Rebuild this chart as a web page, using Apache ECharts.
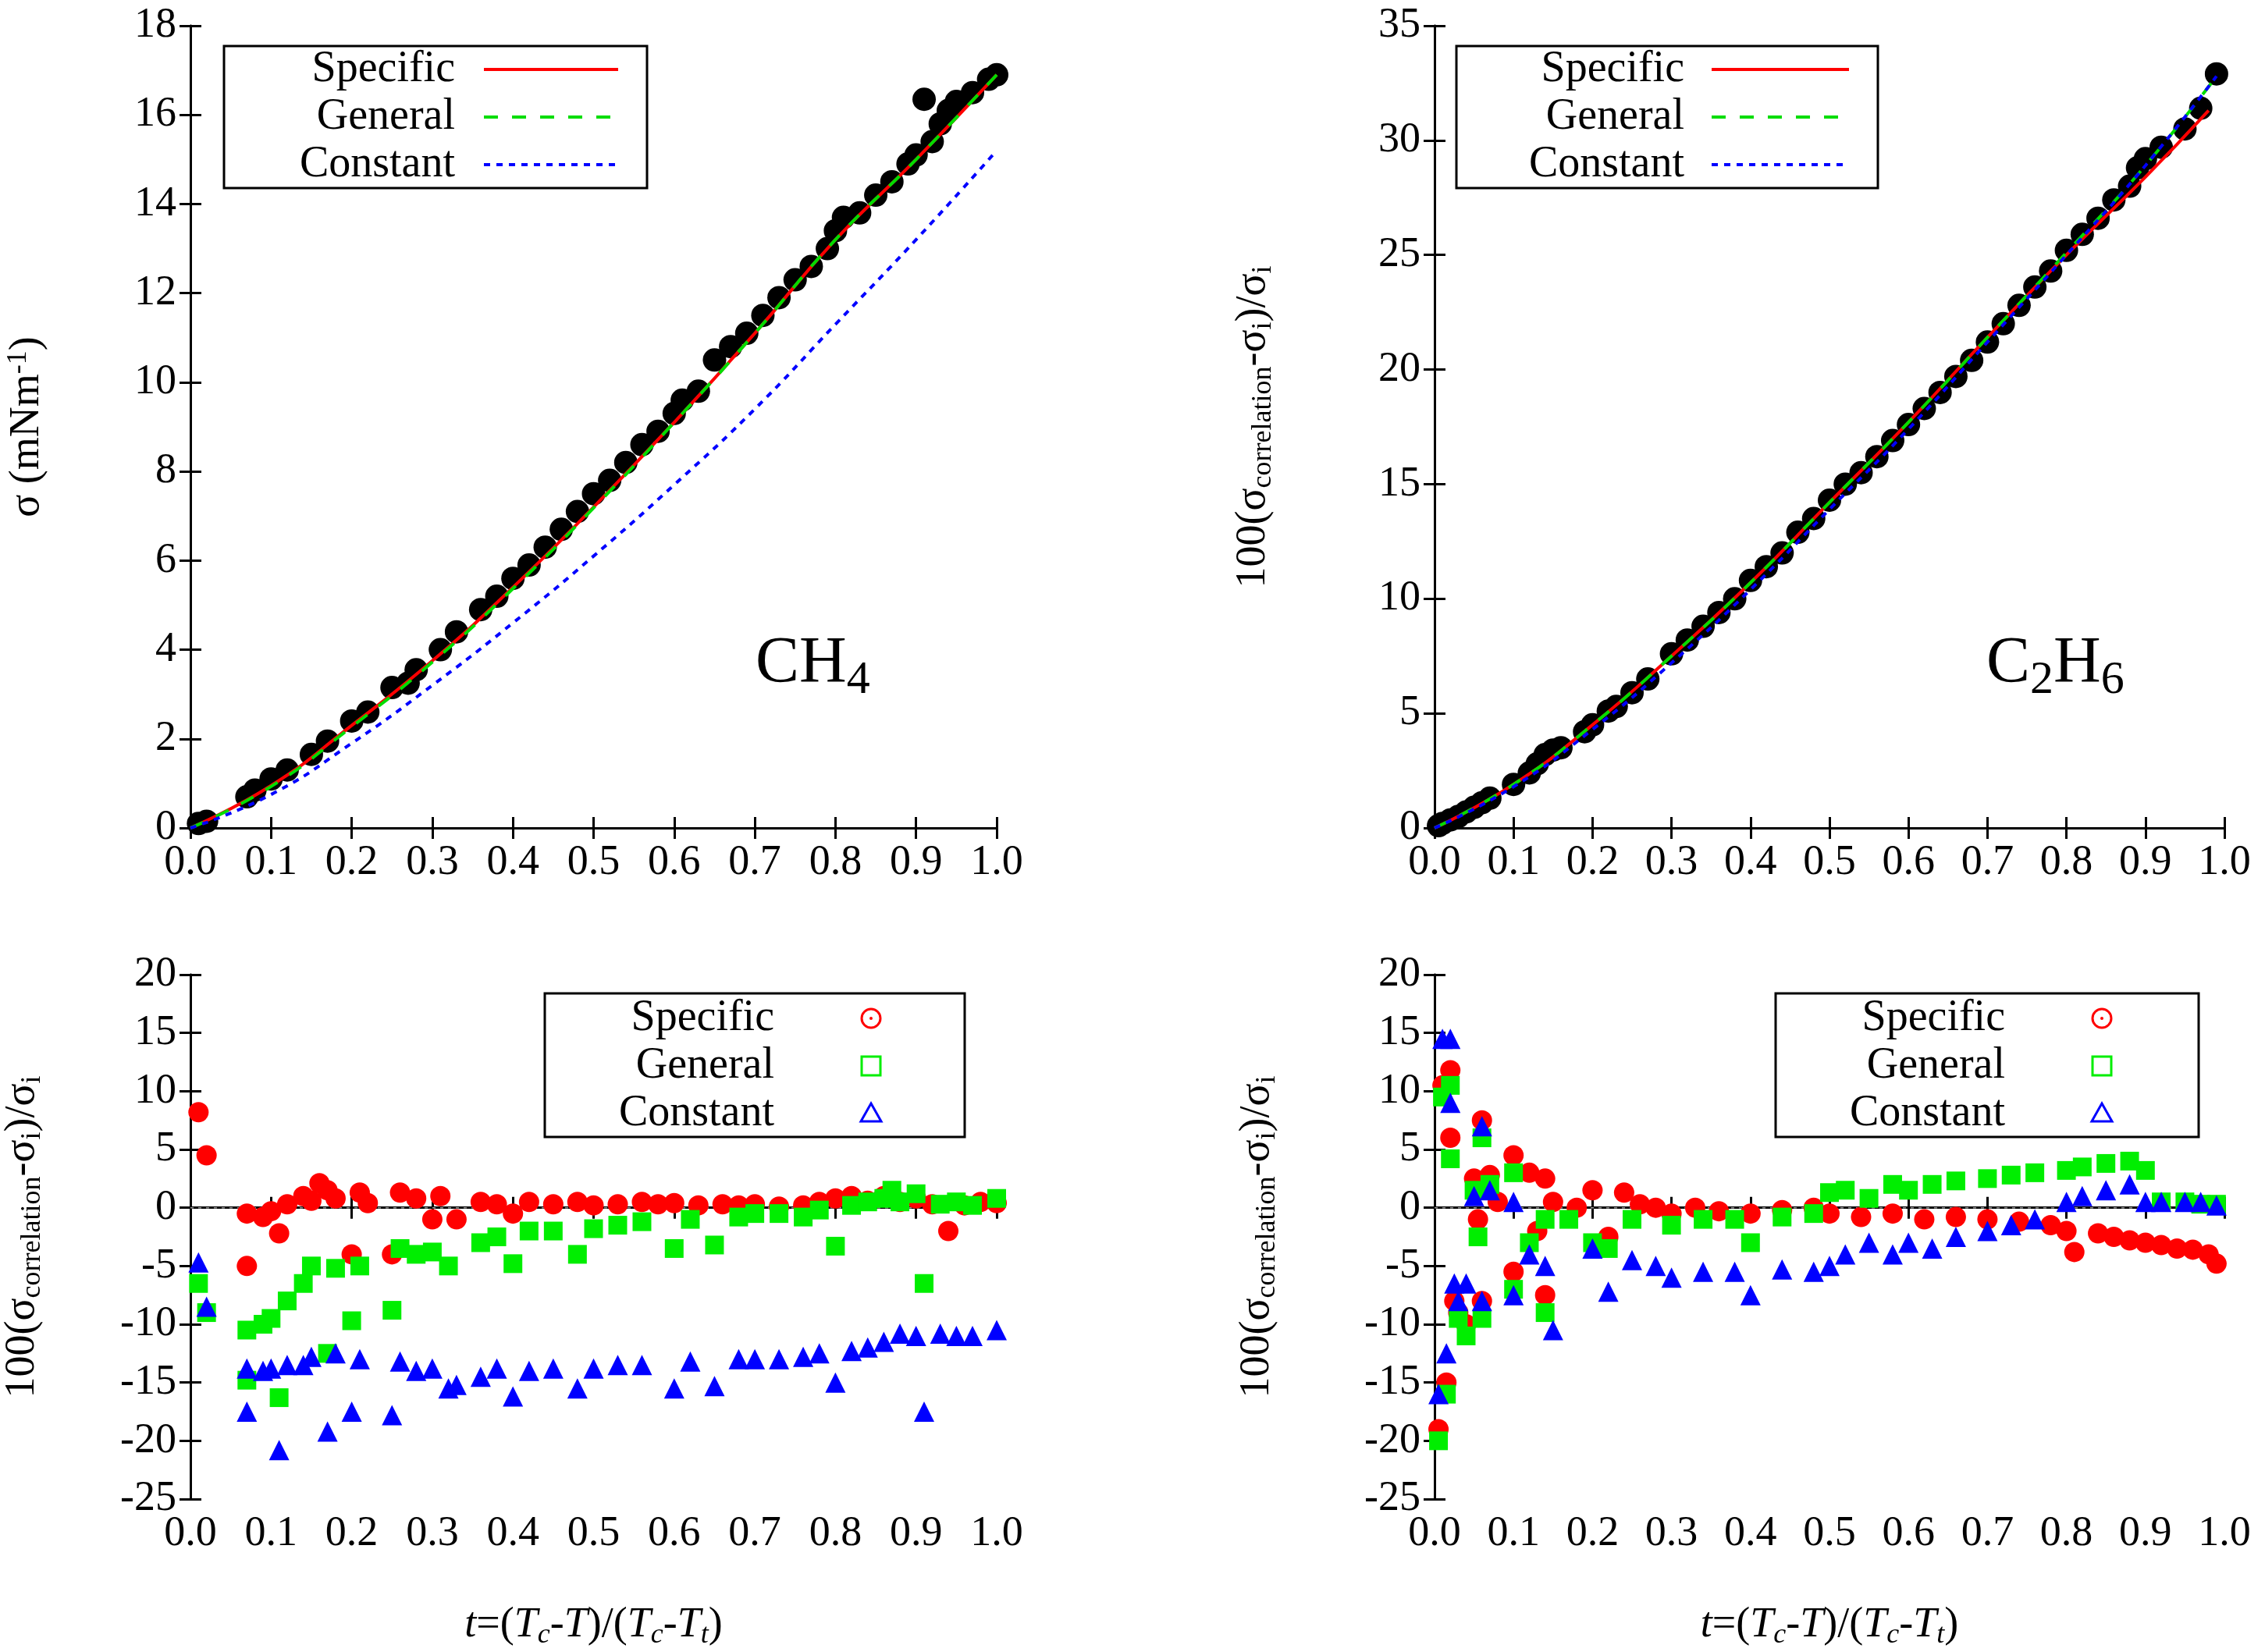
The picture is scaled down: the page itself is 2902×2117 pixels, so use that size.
<!DOCTYPE html>
<html><head><meta charset="utf-8">
<script src="https://cdn.jsdelivr.net/npm/echarts@6/dist/echarts.min.js"></script>
<style>html,body{margin:0;padding:0;background:#fff}#c{width:2902px;height:2117px}</style>
</head><body><div id="c"></div>
<script>
// ---------- data ----------
const xTicks = [0.0,0.1,0.2,0.3,0.4,0.5,0.6,0.7,0.8,0.9,1.0];
const ch4Exp = [[0.01,0.1],[0.02,0.15],[0.07,0.7],[0.08,0.85],[0.1,1.1],[0.12,1.3],[0.15,1.65],[0.17,1.95],[0.2,2.4],[0.22,2.6],[0.25,3.15],[0.27,3.25],[0.28,3.55],[0.31,4.0],[0.33,4.4],[0.36,4.9],[0.38,5.2],[0.4,5.6],[0.42,5.9],[0.44,6.3],[0.46,6.7],[0.48,7.1],[0.5,7.5],[0.52,7.8],[0.54,8.2],[0.56,8.6],[0.58,8.9],[0.6,9.3],[0.61,9.6],[0.63,9.8],[0.65,10.5],[0.67,10.8],[0.69,11.1],[0.71,11.5],[0.73,11.9],[0.75,12.3],[0.77,12.6],[0.79,13.0],[0.8,13.4],[0.81,13.7],[0.83,13.8],[0.85,14.2],[0.87,14.5],[0.89,14.9],[0.9,15.1],[0.91,16.35],[0.92,15.4],[0.93,15.8],[0.94,16.1],[0.95,16.3],[0.97,16.5],[0.99,16.8],[1.0,16.9]];
const ch4Spec = [[0,0],[0.1,0.95],[0.2,2.3],[0.3,3.75],[0.4,5.4],[0.5,7.2],[0.6,9.1],[0.7,11.1],[0.8,13.2],[0.9,15.0],[1.0,16.9]];
const ch4Gen = [[0,0],[0.1,0.93],[0.2,2.27],[0.3,3.72],[0.4,5.37],[0.5,7.18],[0.6,9.1],[0.7,11.1],[0.8,13.2],[0.9,15.0],[1.0,16.9]];
const ch4Const = [[0,0],[0.1,0.75],[0.2,1.9],[0.3,3.2],[0.4,4.6],[0.5,6.1],[0.6,7.7],[0.7,9.4],[0.8,11.3],[0.9,13.2],[1.0,15.2]];
const c2h6Exp = [[0.005,0.1],[0.01,0.2],[0.02,0.35],[0.03,0.5],[0.04,0.7],[0.05,0.9],[0.06,1.1],[0.07,1.3],[0.1,1.9],[0.12,2.4],[0.13,2.8],[0.14,3.2],[0.15,3.4],[0.16,3.5],[0.19,4.2],[0.2,4.5],[0.22,5.1],[0.23,5.3],[0.25,5.9],[0.27,6.5],[0.3,7.6],[0.32,8.2],[0.34,8.8],[0.36,9.4],[0.38,10.0],[0.4,10.8],[0.42,11.4],[0.44,12.0],[0.46,12.9],[0.48,13.5],[0.5,14.3],[0.52,15.0],[0.54,15.5],[0.56,16.2],[0.58,16.9],[0.6,17.6],[0.62,18.3],[0.64,19.0],[0.66,19.7],[0.68,20.4],[0.7,21.2],[0.72,22.0],[0.74,22.8],[0.76,23.6],[0.78,24.3],[0.8,25.2],[0.82,25.9],[0.84,26.6],[0.86,27.4],[0.88,28.0],[0.89,28.8],[0.9,29.2],[0.92,29.7],[0.95,30.5],[0.97,31.4],[0.99,32.9]];
const c2h6Spec = [[0,0],[0.1,1.9],[0.2,4.5],[0.3,7.5],[0.4,10.7],[0.5,14.2],[0.6,17.7],[0.7,21.4],[0.8,25.0],[0.9,28.4],[0.98,31.3]];
const c2h6Gen = [[0,0],[0.1,1.9],[0.2,4.5],[0.3,7.5],[0.4,10.7],[0.5,14.2],[0.6,17.7],[0.7,21.4],[0.8,25.1],[0.9,28.9],[0.99,32.8]];
const c2h6Const = [[0,0],[0.1,1.8],[0.2,4.3],[0.3,7.2],[0.4,10.4],[0.5,13.9],[0.6,17.4],[0.7,21.2],[0.8,25.0],[0.9,28.9],[0.99,32.8]];
const ch4DevSpec = [[0.01,8.2],[0.02,4.5],[0.07,-0.5],[0.07,-5],[0.09,-0.8],[0.1,-0.3],[0.11,-2.2],[0.12,0.3],[0.14,1],[0.15,0.6],[0.16,2.1],[0.17,1.5],[0.18,0.8],[0.2,-4],[0.21,1.3],[0.22,0.4],[0.25,-4],[0.26,1.3],[0.28,0.8],[0.3,-1],[0.31,1],[0.33,-1],[0.36,0.5],[0.38,0.3],[0.4,-0.5],[0.42,0.5],[0.45,0.3],[0.48,0.5],[0.5,0.2],[0.53,0.3],[0.56,0.5],[0.58,0.3],[0.6,0.4],[0.63,0.2],[0.66,0.3],[0.68,0.2],[0.7,0.3],[0.73,0.1],[0.76,0.2],[0.78,0.5],[0.8,0.8],[0.82,1.0],[0.84,0.6],[0.86,1.0],[0.88,0.5],[0.9,0.8],[0.92,0.3],[0.94,-2],[0.96,0.2],[0.98,0.5],[1.0,0.4]];
const ch4DevGen = [[0.01,-6.5],[0.02,-9],[0.07,-10.5],[0.07,-14.8],[0.09,-10],[0.1,-9.5],[0.11,-16.3],[0.12,-8],[0.14,-6.5],[0.15,-5],[0.17,-12.5],[0.18,-5.2],[0.2,-9.7],[0.21,-5],[0.25,-8.8],[0.26,-3.5],[0.28,-4],[0.3,-3.8],[0.32,-5],[0.36,-3],[0.38,-2.5],[0.4,-4.8],[0.42,-2],[0.45,-2],[0.48,-4],[0.5,-1.8],[0.53,-1.5],[0.56,-1.2],[0.6,-3.5],[0.62,-1],[0.65,-3.2],[0.68,-0.8],[0.7,-0.5],[0.73,-0.5],[0.76,-0.8],[0.78,-0.2],[0.8,-3.3],[0.82,0.2],[0.84,0.5],[0.86,0.8],[0.87,1.5],[0.88,0.5],[0.9,1.2],[0.91,-6.5],[0.93,0.3],[0.95,0.5],[0.97,0.2],[1.0,0.8]];
const ch4DevConst = [[0.01,-4.7],[0.02,-8.5],[0.07,-13.8],[0.07,-17.5],[0.09,-14],[0.1,-13.8],[0.11,-20.8],[0.12,-13.5],[0.14,-13.5],[0.15,-12.8],[0.17,-19.2],[0.18,-12.5],[0.2,-17.5],[0.21,-13],[0.25,-17.8],[0.26,-13.2],[0.28,-14],[0.3,-13.8],[0.32,-15.5],[0.33,-15.2],[0.36,-14.5],[0.38,-13.8],[0.4,-16.2],[0.42,-14],[0.45,-13.8],[0.48,-15.5],[0.5,-13.8],[0.53,-13.5],[0.56,-13.5],[0.6,-15.5],[0.62,-13.2],[0.65,-15.3],[0.68,-13],[0.7,-13],[0.73,-13],[0.76,-12.8],[0.78,-12.5],[0.8,-15],[0.82,-12.3],[0.84,-12],[0.86,-11.5],[0.88,-10.8],[0.9,-11],[0.91,-17.5],[0.93,-10.8],[0.95,-11],[0.97,-11],[1.0,-10.5]];
const c2h6DevSpec = [[0.005,-19],[0.01,10.5],[0.015,-15],[0.02,11.8],[0.02,6],[0.025,-8],[0.03,-9],[0.04,-10],[0.05,2.5],[0.055,-1],[0.06,7.5],[0.06,-8],[0.07,2.8],[0.08,0.5],[0.1,4.5],[0.1,-5.5],[0.12,3],[0.13,-2],[0.14,2.5],[0.14,-7.5],[0.15,0.5],[0.18,0],[0.2,1.5],[0.22,-2.5],[0.24,1.3],[0.26,0.3],[0.28,0],[0.3,-0.5],[0.33,0],[0.36,-0.3],[0.4,-0.5],[0.44,-0.2],[0.48,0],[0.5,-0.5],[0.54,-0.8],[0.58,-0.5],[0.62,-1],[0.66,-0.8],[0.7,-1],[0.74,-1.2],[0.78,-1.5],[0.8,-2],[0.81,-3.8],[0.84,-2.2],[0.86,-2.5],[0.88,-2.8],[0.9,-3],[0.92,-3.2],[0.94,-3.5],[0.96,-3.6],[0.98,-4],[0.99,-4.8]];
const c2h6DevGen = [[0.005,-20],[0.01,9.5],[0.015,-16],[0.02,10.5],[0.02,4.2],[0.03,-9.5],[0.04,-11],[0.05,1.5],[0.055,-2.5],[0.06,6],[0.06,-9.5],[0.07,2],[0.1,3],[0.1,-7],[0.12,-3],[0.14,-1],[0.14,-9],[0.17,-1],[0.2,-3],[0.22,-3.5],[0.25,-1],[0.3,-1.5],[0.34,-1],[0.38,-1],[0.4,-3],[0.44,-0.8],[0.48,-0.5],[0.5,1.3],[0.52,1.5],[0.55,0.8],[0.58,2],[0.6,1.5],[0.63,2],[0.66,2.3],[0.7,2.5],[0.73,2.8],[0.76,3],[0.8,3.2],[0.82,3.5],[0.85,3.8],[0.88,4],[0.9,3.2],[0.92,0.5],[0.95,0.5],[0.97,0.3],[0.99,0.3]];
const c2h6DevConst = [[0.005,-16],[0.01,14.5],[0.015,-12.5],[0.02,14.5],[0.02,9],[0.025,-6.5],[0.03,-8],[0.04,-6.5],[0.05,1],[0.06,7],[0.06,-8],[0.07,1.5],[0.1,0.5],[0.1,-7.5],[0.12,-4],[0.14,-5],[0.15,-10.5],[0.2,-3.5],[0.22,-7.2],[0.25,-4.5],[0.28,-5],[0.3,-6],[0.34,-5.5],[0.38,-5.5],[0.4,-7.5],[0.44,-5.3],[0.48,-5.5],[0.5,-5],[0.52,-4],[0.55,-3],[0.58,-4],[0.6,-3],[0.63,-3.5],[0.66,-2.5],[0.7,-2],[0.73,-1.5],[0.76,-1],[0.8,0.5],[0.82,1],[0.85,1.5],[0.88,2],[0.9,0.5],[0.92,0.5],[0.95,0.5],[0.97,0.5],[0.99,0.2]];

// ---------- chart ----------
const F = 'Liberation Serif';
const gb = {containLabel:false, outerBoundsMode:'none'};
const grids = [
  Object.assign({left:244, top:33, width:1033, height:1028},gb),
  Object.assign({left:1838, top:33, width:1012, height:1028},gb),
  Object.assign({left:244, top:1249, width:1033, height:672},gb),
  Object.assign({left:1838, top:1249, width:1012, height:672},gb)
];
const yr = [[0,18,2],[0,35,5],[-25,20,5],[-25,20,5]];
const xAxis=[], yAxis=[];
const ax = {lineStyle:{color:'#000',width:3}};
const tk = {inside:true,length:14,lineStyle:{width:3,color:'#000'}};
const devName = '{n|100(σ}{s|correlation}{n|-σ}{s|i}{n|)/σ}{s|i}';
const yNames = ['{n|σ (mNm}{u|-1}{n|)}', devName, devName, devName];
const richN = {n:{fontFamily:F,fontSize:54,color:'#000'},s:{fontFamily:F,fontSize:36,color:'#000',verticalAlign:'bottom',padding:[0,0,-4,0]},u:{fontFamily:F,fontSize:36,color:'#000',verticalAlign:'top',padding:[0,0,22,0]},
  i:{fontFamily:F,fontSize:54,fontStyle:'italic',color:'#000'},is:{fontFamily:F,fontSize:36,fontStyle:'italic',color:'#000',verticalAlign:'bottom',padding:[0,0,-4,0]}};
const nameGaps=[180,205,188,200];
grids.forEach((g,i)=>{
  const bottom = i>=2;
  xAxis.push({gridIndex:i,type:'value',min:0,max:1,interval:0.1,axisLine:ax,axisTick:tk,
    splitLine:{show:false},axisLabel:{fontFamily:F,fontSize:54,color:'#000',margin:18,formatter:v=>v.toFixed(1)},
    name: bottom?'{i|t}{n|=(}{i|T}{is|c}{i|-T}{n|)/(}{i|T}{is|c}{i|-T}{is|t}{n|)}':'', nameLocation:'middle',nameGap:135,nameTextStyle:{rich:richN}});
  xAxis.push({gridIndex:i,type:'value',min:0,max:1,interval:0.1,position:'top',axisLine:ax,axisTick:tk,axisLabel:{show:false},splitLine:{show:false}});
  yAxis.push({gridIndex:i,type:'value',min:yr[i][0],max:yr[i][1],interval:yr[i][2],axisLine:ax,axisTick:tk,
    splitLine:{show:false},axisLabel:{fontFamily:F,fontSize:54,color:'#000',margin:18},
    name:yNames[i],nameLocation:'middle',nameGap:nameGaps[i],nameTextStyle:{rich:richN}});
  yAxis.push({gridIndex:i,type:'value',min:yr[i][0],max:yr[i][1],interval:yr[i][2],position:'right',axisLine:ax,axisTick:tk,axisLabel:{show:false},splitLine:{show:false}});
});
const series=[];
function line(i,data,color,type){series.push({type:'line',xAxisIndex:2*i,yAxisIndex:2*i,data,smooth:true,showSymbol:false,lineStyle:{color,width:4,type},z:5});}
function sc(i,data,sym,color,size){series.push({type:'scatter',xAxisIndex:2*i,yAxisIndex:2*i,data,symbol:sym,symbolSize:size,itemStyle:{color,opacity:1},z:3});}
sc(0,ch4Exp,'circle','#000',30); line(0,ch4Spec,'#ff0000','solid'); line(0,ch4Gen,'#00dd00',[18,18]); line(0,ch4Const,'#0000ff',[8,8]);
sc(1,c2h6Exp,'circle','#000',30); line(1,c2h6Spec,'#ff0000','solid'); line(1,c2h6Gen,'#00dd00',[18,18]); line(1,c2h6Const,'#0000ff',[8,8]);
[[2,ch4DevSpec,ch4DevGen,ch4DevConst],[3,c2h6DevSpec,c2h6DevGen,c2h6DevConst]].forEach(([i,a,b,c])=>{
  sc(i,a,'circle','#ff0000',26); sc(i,b,'rect','#00ee00',24); sc(i,c,'triangle','#0000ff',26);
  series.push({type:'line',xAxisIndex:2*i,yAxisIndex:2*i,data:[[0,0],[1,0]],showSymbol:false,lineStyle:{color:'#999',width:1.5,type:[4,6]},z:1});
});
const graphic=[];
const LF='56px "Liberation Serif"';
function lineLegend(x0,y0,w,textEnd,l0,l1){
  graphic.push({type:'rect',shape:{x:x0,y:y0,width:w,height:182},style:{fill:'#fff',stroke:'#000',lineWidth:3},z:10});
  const labels=['Specific','General','Constant'], cols=['#ff0000','#00dd00','#0000ff'], dash=[null,[18,18],[8,8]];
  labels.forEach((t,k)=>{const y=y0+30+k*61;
    graphic.push({type:'text',x:textEnd,y:y,style:{text:t,font:LF,fill:'#000',textAlign:'right',textVerticalAlign:'middle'},z:11});
    graphic.push({type:'line',shape:{x1:l0,y1:y,x2:l1,y2:y},style:{stroke:cols[k],lineWidth:4,lineDash:dash[k]},z:11});
  });
}
function symLegend(x0,y0,w,textEnd,sx){
  graphic.push({type:'rect',shape:{x:x0,y:y0,width:w,height:184},style:{fill:'#fff',stroke:'#000',lineWidth:3},z:10});
  const labels=['Specific','General','Constant'];
  labels.forEach((t,k)=>{const y=y0+32+k*61;
    graphic.push({type:'text',x:textEnd,y:y,style:{text:t,font:LF,fill:'#000',textAlign:'right',textVerticalAlign:'middle'},z:11});
  });
  graphic.push({type:'circle',shape:{cx:sx,cy:y0+32,r:12},style:{fill:'none',stroke:'#ff0000',lineWidth:3},z:11});
  graphic.push({type:'circle',shape:{cx:sx,cy:y0+32,r:2},style:{fill:'#ff0000'},z:11});
  graphic.push({type:'rect',shape:{x:sx-12,y:y0+93-12,width:24,height:24},style:{fill:'none',stroke:'#00ee00',lineWidth:3},z:11});
  graphic.push({type:'polygon',shape:{points:[[sx,y0+154-13],[sx+13,y0+154+10],[sx-13,y0+154+10]]},style:{fill:'none',stroke:'#0000ff',lineWidth:3},z:11});
}
lineLegend(287,59,542,583,620,792);
lineLegend(1866,59,540,2158,2193,2369);
symLegend(698,1273,538,992,1116);
symLegend(2275,1273,542,2569,2693);
const big={n:{fontFamily:F,fontSize:84,color:'#000'},s:{fontFamily:F,fontSize:60,color:'#000',verticalAlign:'bottom',padding:[0,0,-8,0]}};
graphic.push({type:'text',x:968,y:810,style:{text:'{n|CH}{s|4}',rich:big},z:11});
graphic.push({type:'text',x:2545,y:810,style:{text:'{n|C}{s|2}{n|H}{s|6}',rich:big},z:11});
const chart=echarts.init(document.getElementById('c'));
chart.setOption({animation:false,grid:grids,xAxis,yAxis,series,graphic});
</script></body></html>
